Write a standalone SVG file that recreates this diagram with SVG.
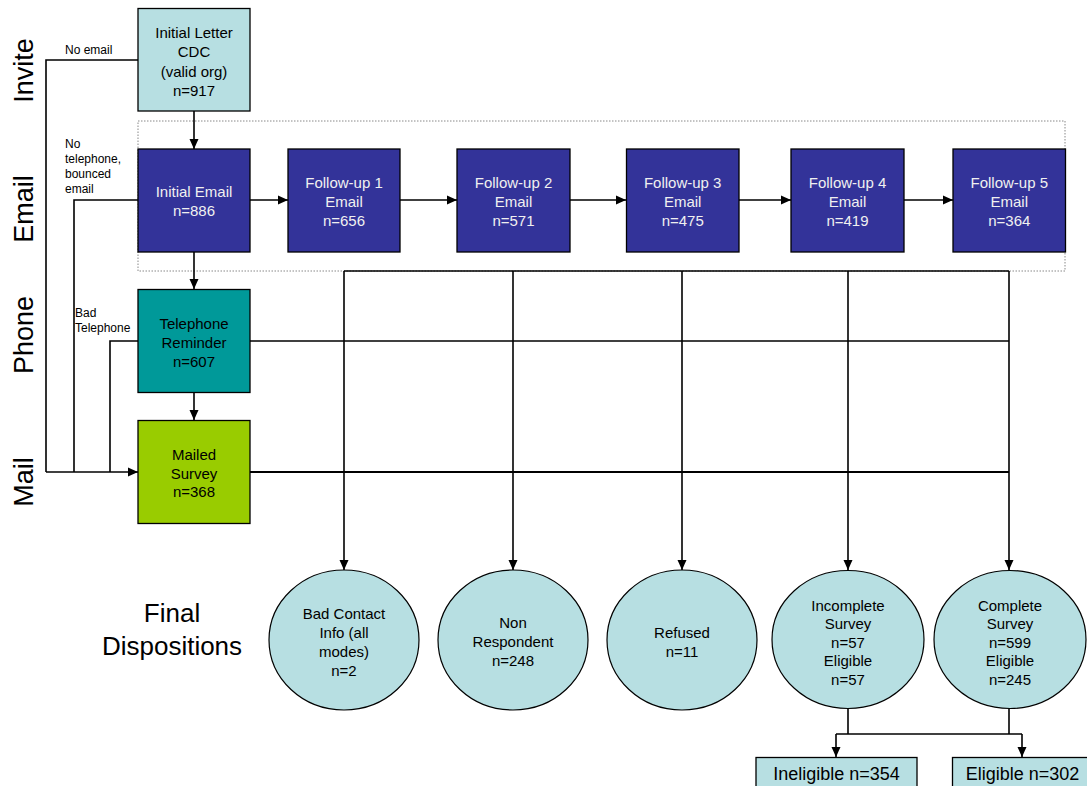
<svg xmlns="http://www.w3.org/2000/svg" width="1087" height="786" viewBox="0 0 1087 786">
<style>
text{font-family:"Liberation Sans",Arial,sans-serif;text-anchor:middle;fill:#000}
.bt{font-size:15px}
.wt{font-size:15px;fill:#f0f0f0}
.lane{font-size:27px}
.sm{font-size:12px;text-anchor:start}
.box{stroke:#000;stroke-width:1.3}
.c{fill:#b7dfe2;stroke:#000;stroke-width:1.2}
.ln{fill:none;stroke:#000;stroke-width:1.6}
.ar{fill:none;stroke:#000;stroke-width:1.6;marker-end:url(#ah)}
</style>
<defs>
<marker id="ah" markerUnits="userSpaceOnUse" markerWidth="10" markerHeight="10" refX="10" refY="5" orient="auto">
<path d="M0,0.5 L10,5 L0,9.5 z" fill="#000"/>
</marker>
</defs>
<rect width="1087" height="786" fill="#fff"/>

<g id="lanes">
<text class="lane" transform="translate(33,70.5) rotate(-90)">Invite</text>
<text class="lane" transform="translate(33,209) rotate(-90)">Email</text>
<text class="lane" transform="translate(33,335) rotate(-90)">Phone</text>
<text class="lane" transform="translate(33,482) rotate(-90)">Mail</text>
<text style="font-size:26px" x="172" y="622">Final</text>
<text style="font-size:26px" x="172" y="655">Dispositions</text>
</g>

<rect id="email-group" x="138" y="121" width="927" height="150" fill="none" stroke="#888" stroke-width="1" stroke-dasharray="1.5 1.5"/>

<g id="connectors">
<path class="ar" d="M194,111 V149"/>
<path class="ar" d="M194,252 V289"/>
<path class="ar" d="M194,392 V420"/>
<path class="ar" d="M250,200 H288"/>
<path class="ar" d="M400,200 H457"/>
<path class="ar" d="M570,200 H626"/>
<path class="ar" d="M739,200 H791"/>
<path class="ar" d="M904,200 H953"/>
<path class="ln" d="M138,60 H46 V472"/>
<path class="ln" d="M138,200 H74 V472"/>
<path class="ln" d="M138,341 H110 V472"/>
<path class="ar" d="M46,472 H138"/>
<path class="ln" d="M344,271 H1009"/>
<path class="ln" d="M250,341 H1009"/>
<path class="ln" d="M250,472 H1009" style="stroke-width:2"/>
<path class="ar" d="M344,271 V570"/>
<path class="ar" d="M513,271 V570"/>
<path class="ar" d="M682,271 V570"/>
<path class="ar" d="M848,271 V570"/>
<path class="ar" d="M1009,271 V570"/>
<path class="ln" d="M848,708 V734"/>
<path class="ln" d="M1009,708 V734"/>
<path class="ln" d="M836,734 H1022"/>
<path class="ar" d="M836,734 V757"/>
<path class="ar" d="M1022,734 V757"/>
<text class="sm" x="65" y="54">No email</text>
<text class="sm" x="65" y="148">No</text>
<text class="sm" x="65" y="163">telephone,</text>
<text class="sm" x="65" y="178">bounced</text>
<text class="sm" x="65" y="193">email</text>
<text class="sm" x="75" y="317">Bad</text>
<text class="sm" x="75" y="332">Telephone</text>
</g>

<g id="initial-letter">
<rect class="box" x="138" y="8.5" width="112" height="102.5" fill="#b7dfe2"/>
<text class="bt" x="194" y="38">Initial Letter</text>
<text class="bt" x="194" y="57">CDC</text>
<text class="bt" x="194" y="76.5">(valid org)</text>
<text class="bt" x="194" y="95.5">n=917</text>
</g>

<g id="initial-email">
<rect class="box" x="138" y="149" width="112" height="103" fill="#333399"/>
<text class="wt" x="194" y="196.5">Initial Email</text>
<text class="wt" x="194" y="215.5">n=886</text>
</g>

<g id="followup1">
<rect class="box" x="288" y="149" width="112" height="103" fill="#333399"/>
<text class="wt" x="344" y="188">Follow-up 1</text>
<text class="wt" x="344" y="207">Email</text>
<text class="wt" x="344" y="226">n=656</text>
</g>
<g id="followup2">
<rect class="box" x="457" y="149" width="113" height="103" fill="#333399"/>
<text class="wt" x="513.5" y="188">Follow-up 2</text>
<text class="wt" x="513.5" y="207">Email</text>
<text class="wt" x="513.5" y="226">n=571</text>
</g>
<g id="followup3">
<rect class="box" x="626.5" y="149" width="112.5" height="103" fill="#333399"/>
<text class="wt" x="682.7" y="188">Follow-up 3</text>
<text class="wt" x="682.7" y="207">Email</text>
<text class="wt" x="682.7" y="226">n=475</text>
</g>
<g id="followup4">
<rect class="box" x="791" y="149" width="113" height="103" fill="#333399"/>
<text class="wt" x="847.5" y="188">Follow-up 4</text>
<text class="wt" x="847.5" y="207">Email</text>
<text class="wt" x="847.5" y="226">n=419</text>
</g>
<g id="followup5">
<rect class="box" x="953" y="149" width="112.5" height="103" fill="#333399"/>
<text class="wt" x="1009.3" y="188">Follow-up 5</text>
<text class="wt" x="1009.3" y="207">Email</text>
<text class="wt" x="1009.3" y="226">n=364</text>
</g>

<g id="telephone">
<rect class="box" x="138" y="289.5" width="112" height="103" fill="#009999"/>
<text class="bt" x="194" y="329">Telephone</text>
<text class="bt" x="194" y="348">Reminder</text>
<text class="bt" x="194" y="366.5">n=607</text>
</g>

<g id="mailed">
<rect class="box" x="138" y="420.5" width="112" height="103" fill="#99cc00"/>
<text class="bt" x="194" y="459.5">Mailed</text>
<text class="bt" x="194" y="479">Survey</text>
<text class="bt" x="194" y="497">n=368</text>
</g>

<g id="bad-contact">
<ellipse class="c" cx="344" cy="640" rx="75" ry="70"/>
<text class="bt" x="344" y="618.5">Bad Contact</text>
<text class="bt" x="344" y="638">Info (all</text>
<text class="bt" x="344" y="657">modes)</text>
<text class="bt" x="344" y="676">n=2</text>
</g>
<g id="non-respondent">
<ellipse class="c" cx="513" cy="640" rx="75" ry="70"/>
<text class="bt" x="513" y="628">Non</text>
<text class="bt" x="513" y="647">Respondent</text>
<text class="bt" x="513" y="666">n=248</text>
</g>
<g id="refused">
<ellipse class="c" cx="682" cy="640" rx="75" ry="70"/>
<text class="bt" x="682" y="638">Refused</text>
<text class="bt" x="682" y="657">n=11</text>
</g>
<g id="incomplete">
<ellipse class="c" cx="848" cy="639.5" rx="76" ry="69"/>
<text class="bt" x="848" y="610.5">Incomplete</text>
<text class="bt" x="848" y="629">Survey</text>
<text class="bt" x="848" y="647.5">n=57</text>
<text class="bt" x="848" y="666">Eligible</text>
<text class="bt" x="848" y="685">n=57</text>
</g>
<g id="complete">
<ellipse class="c" cx="1010" cy="639.5" rx="76" ry="69"/>
<text class="bt" x="1010" y="610.5">Complete</text>
<text class="bt" x="1010" y="629">Survey</text>
<text class="bt" x="1010" y="647.5">n=599</text>
<text class="bt" x="1010" y="666">Eligible</text>
<text class="bt" x="1010" y="685">n=245</text>
</g>

<g id="ineligible">
<rect class="box" x="756" y="757.5" width="161" height="40" fill="#b7dfe2"/>
<text style="font-size:18px" x="836.5" y="780">Ineligible n=354</text>
</g>
<g id="eligible">
<rect class="box" x="952.5" y="757.5" width="140" height="40" fill="#b7dfe2"/>
<text style="font-size:18px" x="1022.5" y="780">Eligible n=302</text>
</g>
</svg>
